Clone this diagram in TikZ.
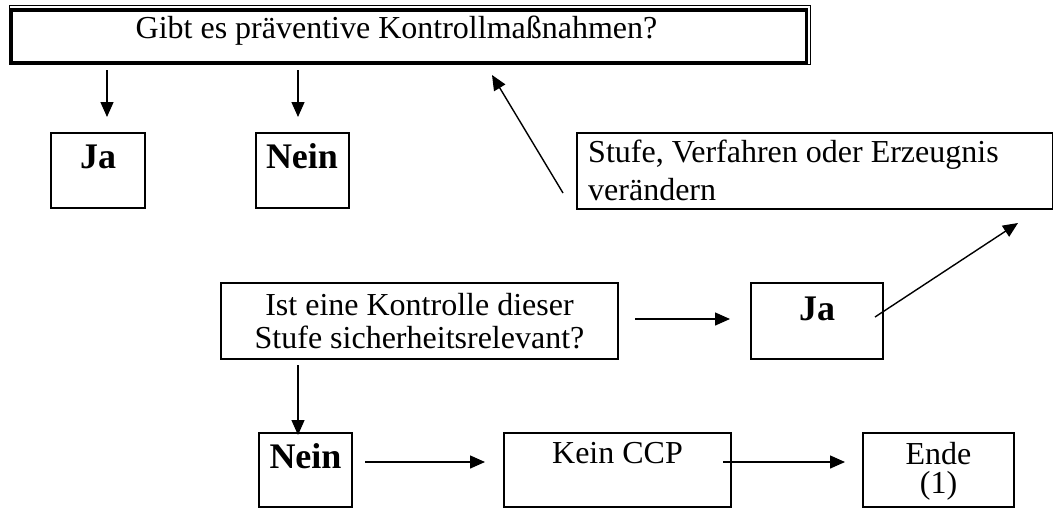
\documentclass[tikz,border=0pt]{standalone}
\usepackage{fontspec}
\setmainfont{Liberation Serif}
\usetikzlibrary{arrows.meta}
\tikzset{
  box/.style={draw, line width=1.5pt, inner sep=0pt, outer sep=0pt},
  reg/.style={inner sep=0pt, anchor=base, font=\fontsize{32}{37}\selectfont},
  bld/.style={inner sep=0pt, anchor=base, font=\fontsize{36}{40}\selectfont\bfseries},
  arr/.style={line width=1.4pt, -{Triangle[length=15pt,width=13pt]}},
}
\begin{document}
\begin{tikzpicture}[x=1pt,y=-1pt]
\useasboundingbox (0,0) rectangle (1054,509);
% top double-bordered box
\node[draw, line width=3.5pt, inner sep=0pt, outer sep=0pt, minimum width=795.5pt, minimum height=52.5pt] (top) at (408.75,36.25) {};
\draw[line width=1pt] ([xshift=-1.5pt,yshift=4.5pt]top.north west) rectangle ([xshift=4pt,yshift=-1.5pt]top.south east);
\node[reg] (topt) at (396.5,38) {Gibt es präventive Kontrollmaßnahmen?};
% first row answers
\node[box, minimum width=94pt, minimum height=75pt] (ja1) at (98,170.5) {};
\node[bld] (ja1t) at (98,168) {Ja};
\node[box, minimum width=93pt, minimum height=75pt] (nein1) at (302.5,170.5) {};
\node[bld] (nein1t) at (302,168) {Nein};
% change box
\node[box, minimum width=475.5pt, minimum height=76pt] (stufe) at (814.75,171) {};
\node[reg, anchor=base west] (stufet1) at (588,162) {Stufe, Verfahren oder Erzeugnis};
\node[reg, anchor=base west] (stufet2) at (588,200) {verändern};
% question box
\node[box, minimum width=397pt, minimum height=76pt] (ist) at (419.5,321) {};
\node[reg] (istt1) at (419.5,315) {Ist eine Kontrolle dieser};
\node[reg] (istt2) at (419.5,348) {Stufe sicherheitsrelevant?};
\node[box, minimum width=132pt, minimum height=76pt] (ja2) at (817,321) {};
\node[bld] (ja2t) at (817,320) {Ja};
% bottom row
\node[box, minimum width=93pt, minimum height=74pt] (nein2) at (305.5,470) {};
\node[bld] (nein2t) at (305.5,468) {Nein};
\node[box, minimum width=227pt, minimum height=74pt] (kein) at (617.5,470) {};
\node[reg] (keint) at (617.5,463) {Kein CCP};
\node[box, minimum width=151pt, minimum height=74pt] (ende) at (938.5,470) {};
\node[reg] (endet1) at (938.5,464) {Ende};
\node[reg] (endet2) at (938.5,493) {(1)};
% connector end points
\coordinate (a1s) at (107,70);  \coordinate (a1e) at (107,117);
\coordinate (a2s) at (298,70);  \coordinate (a2e) at (298,117);
\coordinate (a3s) at (563,193); \coordinate (a3e) at (492,75);
\coordinate (a4s) at (635,319); \coordinate (a4e) at (730,319);
\coordinate (a5s) at (875,317); \coordinate (a5e) at (1018,223);
\coordinate (a6s) at (298,365); \coordinate (a6e) at (298,435);
\coordinate (a7s) at (365,462); \coordinate (a7e) at (485,462);
\coordinate (a8s) at (723,462); \coordinate (a8e) at (845,462);
\draw[arr] (a1s) -- (a1e);
\draw[arr] (a2s) -- (a2e);
\draw[arr] (a3s) -- (a3e);
\draw[arr] (a4s) -- (a4e);
\draw[arr] (a5s) -- (a5e);
\draw[arr] (a6s) -- (a6e);
\draw[arr] (a7s) -- (a7e);
\draw[arr] (a8s) -- (a8e);
\end{tikzpicture}
\end{document}
